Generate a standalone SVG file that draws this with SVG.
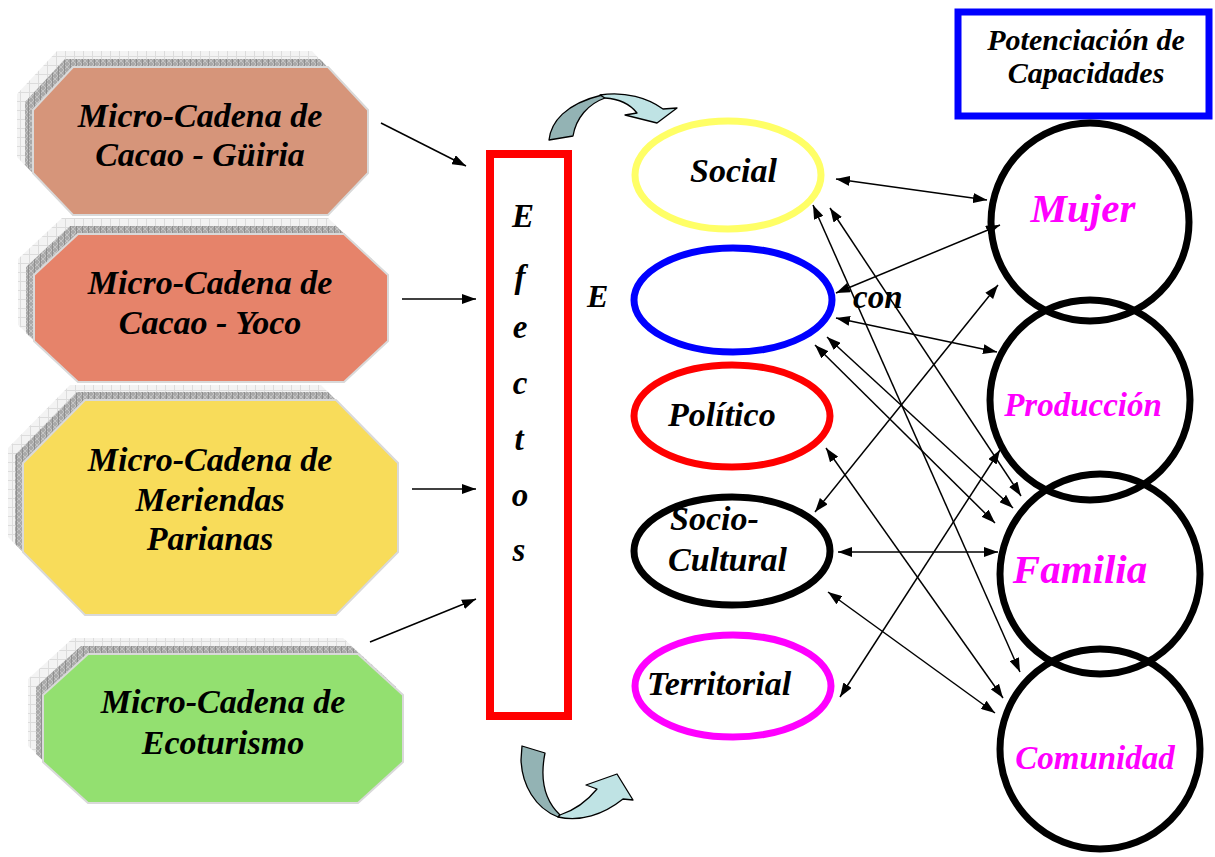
<svg xmlns="http://www.w3.org/2000/svg" width="1215" height="857" viewBox="0 0 1215 857">
<defs>
<style>
.t{font-family:"Liberation Serif","Times New Roman",serif;font-weight:bold;font-style:italic;fill:#000}
.oct{font-size:34px;text-anchor:middle}
.ell{font-size:34px}
.mag{fill:#ff00ff}
.main{stroke:#d9d9d9;stroke-width:2}
.lite{fill:url(#gridLight)}
.dark{fill:url(#hatchDark)}
.con{stroke:#000;stroke-width:1.5;fill:none}
.dbl{marker-start:url(#ah);marker-end:url(#ah)}
.one{marker-end:url(#ah)}
.circ{fill:none;stroke:#000;stroke-width:7}
.el{fill:none;stroke-width:7}
.ca-d{fill:#93b3b4;stroke:#000;stroke-width:1.3;stroke-linejoin:round}
.ca-l{fill:#bfe3e4;stroke:#000;stroke-width:1.3;stroke-linejoin:round}
</style>
<pattern id="gridLight" width="9" height="9" patternUnits="userSpaceOnUse">
<rect width="9" height="9" fill="#f3f3f3"/>
<path d="M0,0.5H9M0.5,0V9" stroke="#dcdcdc" stroke-width="1"/>
</pattern>
<pattern id="hatchDark" width="6" height="6" patternUnits="userSpaceOnUse">
<rect width="6" height="6" fill="#a9a9a9"/>
<path d="M0,0L6,6M6,0L0,6" stroke="#c4c4c4" stroke-width="1"/>
<path d="M0.5,0V6" stroke="#8f8f8f" stroke-width="1"/>
</pattern>
<marker id="ah" viewBox="0 0 14 10" refX="14" refY="5" markerWidth="14" markerHeight="10" markerUnits="userSpaceOnUse" orient="auto-start-reverse">
<path d="M0,0L14,5L0,10Z" fill="#000"/>
</marker>
</defs>
<rect width="1215" height="857" fill="#fff"/>

<g id="node-guiria">
<polygon class="lite" transform="translate(-16,-16)" points="73,67 328,67 368,110 368,173 328,215 73,215 33,173 33,110"/>
<polygon class="dark" transform="translate(-8,-8)" points="73,67 328,67 368,110 368,173 328,215 73,215 33,173 33,110"/>
<polygon class="main" fill="#d6957a" points="73,67 328,67 368,110 368,173 328,215 73,215 33,173 33,110"/>
<text class="t oct" x="200" y="127">Micro-Cadena de</text>
<text class="t oct" x="200" y="166">Cacao - Güiria</text>
</g>

<g id="node-yoco">
<polygon class="lite" transform="translate(-16,-16)" points="78,234 344,234 388,275 388,341 344,382 78,382 34,341 34,275"/>
<polygon class="dark" transform="translate(-8,-8)" points="78,234 344,234 388,275 388,341 344,382 78,382 34,341 34,275"/>
<polygon class="main" fill="#e6836a" points="78,234 344,234 388,275 388,341 344,382 78,382 34,341 34,275"/>
<text class="t oct" x="210" y="294">Micro-Cadena de</text>
<text class="t oct" x="210" y="334">Cacao - Yoco</text>
</g>

<g id="node-meriendas">
<polygon class="lite" transform="translate(-15,-15)" points="85,400 336,400 398,463 398,552 336,615 85,615 23,552 23,463"/>
<polygon class="dark" transform="translate(-8,-8)" points="85,400 336,400 398,463 398,552 336,615 85,615 23,552 23,463"/>
<polygon class="main" fill="#f8dc5a" points="85,400 336,400 398,463 398,552 336,615 85,615 23,552 23,463"/>
<text class="t oct" x="210" y="471">Micro-Cadena de</text>
<text class="t oct" x="210" y="511">Meriendas</text>
<text class="t oct" x="210" y="550">Parianas</text>
</g>

<g id="node-ecoturismo">
<polygon class="lite" transform="translate(-15,-16)" points="88,654 358,654 403,695 403,762 358,803 88,803 43,762 43,695"/>
<polygon class="dark" transform="translate(-7,-8)" points="88,654 358,654 403,695 403,762 358,803 88,803 43,762 43,695"/>
<polygon class="main" fill="#93e070" points="88,654 358,654 403,695 403,762 358,803 88,803 43,762 43,695"/>
<text class="t oct" x="223" y="713">Micro-Cadena de</text>
<text class="t oct" x="223" y="754">Ecoturismo</text>
</g>

<g id="node-efectos">
<rect x="490" y="154" width="78" height="562" fill="none" stroke="#ff0000" stroke-width="8"/>
<g class="t" font-size="33" text-anchor="middle">
<text x="523" y="227">E</text>
<text x="520" y="288">f</text>
<text x="520" y="338">e</text>
<text x="520" y="394">c</text>
<text x="519" y="450">t</text>
<text x="520" y="506">o</text>
<text x="519" y="561">s</text>
</g>
</g>

<g id="label-e"><text class="t" font-size="32" x="587" y="307">E</text></g>

<g id="curved-top">
<path class="ca-d" d="M549,140 C551,122 565,104 602,95 L605,98 C588,104 576,118 573,136 Z"/>
<path class="ca-l" d="M600,95 C625,91 648,98 663,109 L677,108 L657,123 L625,115 L637,113 C630,104 619,99 605,98 Z"/>
</g>

<g id="curved-bottom">
<path class="ca-d" d="M522,746 L545,753 C541,773 541,797 560,815 L558,817 C535,808 522,785 521,760 Z"/>
<path class="ca-l" d="M558,817 C580,822 603,815 623,799 L633,800 L617,774 L586,785 L597,789 C588,800 575,810 560,815 Z"/>
</g>

<g id="node-social">
<ellipse class="el" stroke="#ffff66" cx="728" cy="175" rx="93" ry="54"/>
<text class="t ell" x="690" y="182">Social</text>
</g>
<g id="node-economico">
<ellipse class="el" stroke="#0000ff" cx="733" cy="300" rx="99" ry="52"/>
</g>
<g id="node-politico">
<ellipse class="el" stroke="#ff0000" cx="732" cy="416" rx="98" ry="51"/>
<text class="t ell" x="668" y="426">Político</text>
</g>
<g id="node-sociocultural">
<ellipse class="el" stroke="#000" cx="732" cy="551" rx="98" ry="54"/>
<text class="t ell" x="670" y="530">Socio-</text>
<text class="t ell" x="668" y="571">Cultural</text>
</g>
<g id="node-territorial">
<ellipse class="el" stroke="#ff00ff" cx="733" cy="686" rx="98" ry="51"/>
<text class="t ell" x="647" y="695">Territorial</text>
</g>

<g id="label-con"><text class="t" font-size="33" x="853" y="308">con</text></g>

<g id="node-potenciacion">
<rect x="958" y="12" width="251" height="104" fill="none" stroke="#0000ff" stroke-width="7"/>
<text class="t" font-size="30" text-anchor="middle" x="1086" y="50">Potenciación de</text>
<text class="t" font-size="30" text-anchor="middle" x="1086" y="83">Capacidades</text>
</g>

<g id="node-mujer">
<circle class="circ" cx="1090" cy="222" r="99"/>
<text class="t mag" font-size="41" text-anchor="middle" x="1083" y="222">Mujer</text>
</g>
<g id="node-produccion">
<circle class="circ" cx="1090" cy="400" r="100"/>
<text class="t mag" font-size="33" text-anchor="middle" x="1083" y="416">Producción</text>
</g>
<g id="node-familia">
<circle class="circ" cx="1100" cy="574" r="100"/>
<text class="t mag" font-size="41" text-anchor="middle" x="1080" y="583">Familia</text>
</g>
<g id="node-comunidad">
<circle class="circ" cx="1100" cy="749" r="100"/>
<text class="t mag" font-size="33" text-anchor="middle" x="1095" y="769">Comunidad</text>
</g>

<g id="connectors">
<path class="con one" d="M381,123L466,166"/>
<path class="con one" d="M402,299L476,299"/>
<path class="con one" d="M412,489L476,489"/>
<path class="con one" d="M370,642L476,599"/>
<path class="con dbl" d="M836,179L987,200"/>
<path class="con dbl" d="M836,293L1000,225"/>
<path class="con dbl" d="M836,318L997,352"/>
<path class="con dbl" d="M827,337L1013,508"/>
<path class="con dbl" d="M815,345L995,523"/>
<path class="con dbl" d="M813,205L1020,672"/>
<path class="con dbl" d="M830,208L1021,496"/>
<path class="con dbl" d="M826,448L1003,698"/>
<path class="con dbl" d="M815,512L998,285"/>
<path class="con dbl" d="M838,552L998,552"/>
<path class="con dbl" d="M828,592L995,713"/>
<path class="con dbl" d="M840,697L1000,450"/>
</g>
</svg>
